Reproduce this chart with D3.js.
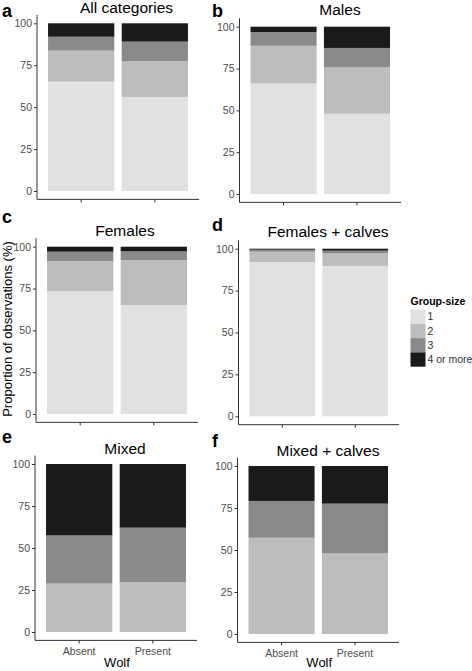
<!DOCTYPE html>
<html><head><meta charset="utf-8">
<script src="https://cdn.jsdelivr.net/npm/d3@7"></script>
<style>
html,body{margin:0;padding:0;background:#fff;}
svg{display:block;font-family:"Liberation Sans",Arial,sans-serif;}
</style></head>
<body><svg id="chart" width="472" height="671"></svg>
<script>
// ---- data ----
const categories = ["Absent", "Present"];
const groups = ["1", "2", "3", "4 or more"];
const yTicks = [0, 25, 50, 75, 100];
const panelLetters = ["a", "b", "c", "d", "e", "f"];
const panelTitles = ["All categories", "Males", "Females", "Females + calves", "Mixed", "Mixed + calves"];
// proportions (%) per group-size [1, 2, 3, 4 or more]; rows: Absent, Present
const allCategories = [[65.2, 18.5, 8.3, 8.0], [56.1, 21.4, 11.6, 10.9]];
const males = [[66.1, 22.5, 8.2, 3.2], [48.0, 27.7, 11.6, 12.7]];
const females = [[73.5, 17.9, 5.6, 3.0], [65.1, 26.9, 5.2, 2.8]];
const femalesCalves = [[92.0, 6.2, 1.2, 0.6], [89.7, 7.5, 1.6, 1.2]];
const mixed = [[0, 28.8, 28.7, 42.5], [0, 29.6, 32.5, 37.9]];
const mixedCalves = [[0, 57.3, 21.9, 20.8], [0, 48.0, 29.6, 22.4]];
const panelData = [allCategories, males, females, femalesCalves, mixed, mixedCalves];

// ---- styling / layout ----
const fills = ["#E1E1E1", "#BDBDBD", "#8A8A8A", "#1A1A1A"];
const layout = [
  {left: 37, right: 199, y0: 191, y100: 23.3, letter: [2, 17], title: [126.5, 12.5], xlabels: false},
  {left: 239.5, right: 401, y0: 194, y100: 26.7, letter: [212, 17], title: [340, 15], xlabels: false},
  {left: 36, right: 198, y0: 414, y100: 246.7, letter: [2, 223], title: [125, 236], xlabels: false},
  {left: 238.5, right: 399, y0: 416.3, y100: 248.7, letter: [212, 231], title: [328, 237], xlabels: false},
  {left: 35, right: 197, y0: 632, y100: 464, letter: [2, 443], title: [125, 454], xlabels: true},
  {left: 237.5, right: 399, y0: 634, y100: 466, letter: [212, 447], title: [328, 456], xlabels: true}
];

const svg = d3.select("#chart");
const axisColor = "#333333";
const tickTextColor = "#4D4D4D";

panelData.forEach((rows, i) => {
  const L = layout[i];
  const y = d3.scaleLinear().domain([0, 100]).range([L.y0, L.y100]);
  const yTop = y(105), yBot = y(-5);
  const x = d3.scaleBand().domain(categories).range([L.left, L.right])
    .paddingInner(0.1).paddingOuter(0.15);
  const g = svg.append("g");

  // stacked bars
  const stackInput = categories.map((c, ci) => {
    const o = {cat: c};
    groups.forEach((gname, gi) => o[gname] = rows[ci][gi]);
    return o;
  });
  const series = d3.stack().keys(groups)(stackInput);
  series.forEach((s, si) => {
    g.selectAll(null).data(s).enter().append("rect")
      .attr("x", d => x(d.data.cat))
      .attr("width", x.bandwidth())
      .attr("y", d => y(d[1]))
      .attr("height", d => Math.max(0, y(d[0]) - y(d[1])))
      .attr("fill", fills[si]);
  });

  // y axis
  const yAxis = d3.axisLeft(y).tickValues(yTicks).tickSize(3).tickPadding(2);
  const ya = g.append("g").attr("transform", `translate(${L.left},0)`).call(yAxis);
  ya.select(".domain").remove();
  ya.selectAll(".tick line").attr("stroke", axisColor);
  ya.selectAll(".tick text").attr("fill", tickTextColor).attr("font-size", 10.5)
    .attr("font-family", '"Liberation Sans",Arial,sans-serif');
  g.append("line").attr("x1", L.left).attr("x2", L.left).attr("y1", yTop).attr("y2", yBot)
    .attr("stroke", axisColor).attr("stroke-width", 1);

  // x axis
  const xAxis = d3.axisBottom(x).tickSize(3).tickPadding(4);
  if (!L.xlabels) xAxis.tickFormat("");
  const xa = g.append("g").attr("transform", `translate(0,${yBot})`).call(xAxis);
  xa.select(".domain").remove();
  xa.selectAll(".tick line").attr("stroke", axisColor);
  xa.selectAll(".tick text").attr("fill", tickTextColor).attr("font-size", 10.5)
    .attr("font-family", '"Liberation Sans",Arial,sans-serif');
  g.append("line").attr("x1", L.left).attr("x2", L.right).attr("y1", yBot).attr("y2", yBot)
    .attr("stroke", axisColor).attr("stroke-width", 1);

  if (L.xlabels) {
    g.append("text").attr("x", (L.left + L.right) / 2 + 1).attr("y", 667)
      .attr("text-anchor", "middle").attr("font-size", 13).attr("fill", "#000").text("Wolf");
  }

  // title + letter
  g.append("text").attr("x", L.title[0]).attr("y", L.title[1]).attr("text-anchor", "middle")
    .attr("font-size", 15.5).attr("fill", "#000").text(panelTitles[i]);
  g.append("text").attr("x", L.letter[0]).attr("y", L.letter[1])
    .attr("font-size", 18).attr("font-weight", "bold").attr("fill", "#000").text(panelLetters[i]);
});

// y axis title
svg.append("text").attr("transform", "translate(12,329) rotate(-90)")
  .attr("text-anchor", "middle").attr("font-size", 13).attr("fill", "#000")
  .text("Proportion of observations (%)");

// legend
const lg = svg.append("g");
lg.append("text").attr("x", 410.5).attr("y", 305).attr("font-size", 10.5)
  .attr("font-weight", "bold").attr("fill", "#000").text("Group-size");
const keyH = 14.3, keyTop = 309.5;
groups.forEach((gname, gi) => {
  lg.append("rect").attr("x", 410.5).attr("y", keyTop + gi * keyH)
    .attr("width", 15).attr("height", keyH).attr("fill", fills[gi]);
  lg.append("text").attr("x", 427.5).attr("y", keyTop + gi * keyH + keyH / 2 + 3.8)
    .attr("font-size", 10.5).attr("fill", "#333").text(gname);
});
</script>
</body></html>
